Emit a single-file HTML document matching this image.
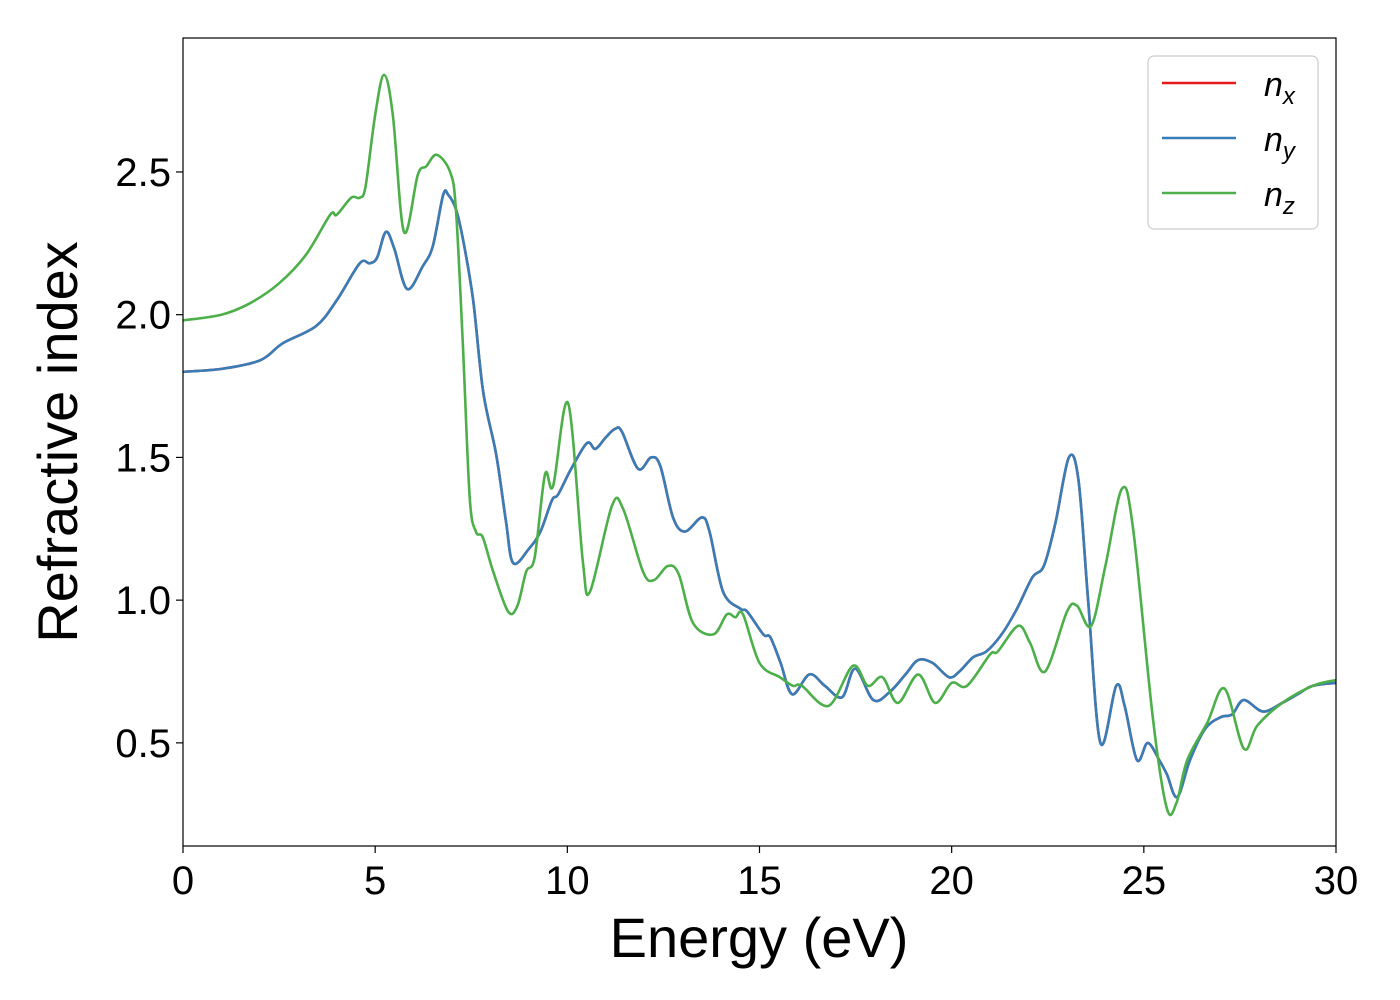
<!DOCTYPE html>
<html><head><meta charset="utf-8"><style>
html,body{margin:0;padding:0;background:#fff;}
svg{display:block;font-family:"Liberation Sans","DejaVu Sans",sans-serif;}
</style></head><body>
<svg id="chart" width="1400" height="1000" viewBox="0 0 1400 1000">
<rect x="0" y="0" width="1400" height="1000" fill="#fff"/>
<g id="plot"></g>
<g id="axes"></g>
<text x="759" y="957" font-size="56" text-anchor="middle" fill="#000">Energy (eV)</text>
<text transform="translate(77,442) rotate(-90)" font-size="56" text-anchor="middle" fill="#000">Refractive index</text>
<g>
<rect x="1148" y="56" width="170" height="173" rx="6" fill="#fff" stroke="#ccc" stroke-width="1.2"/>
<line x1="1162" y1="83" x2="1236" y2="83" stroke="#e41a1c" stroke-width="2.5"/>
<text x="1264" y="96" font-size="34" font-style="italic">n<tspan font-size="24" dy="8">x</tspan></text>
<line x1="1162" y1="138" x2="1236" y2="138" stroke="#377eb8" stroke-width="2.5"/>
<text x="1264" y="151" font-size="34" font-style="italic">n<tspan font-size="24" dy="8">y</tspan></text>
<line x1="1162" y1="193" x2="1236" y2="193" stroke="#4daf4a" stroke-width="2.5"/>
<text x="1264" y="206" font-size="34" font-style="italic">n<tspan font-size="24" dy="8">z</tspan></text>
</g>
</svg>
<script>
const xTicks=[0,5,10,15,20,25,30];
const yTicks=[0.5,1.0,1.5,2.0,2.5];
const yTickLabels=["0.5","1.0","1.5","2.0","2.5"];
const energyXY=[0,1,2,2.6,3.46,4,4.6,4.86,5.05,5.28,5.5,5.83,6.24,6.5,6.77,6.9,7.1,7.29,7.55,7.81,8.15,8.4,8.59,9.0,9.3,9.6,9.76,10.1,10.51,10.73,11.0,11.24,11.42,11.84,12.18,12.42,12.75,13.06,13.5,13.7,14.05,14.5,14.68,15.1,15.28,15.55,15.85,16.3,16.7,17.15,17.49,17.96,18.4,18.8,19.13,19.5,19.93,20.2,20.56,20.9,21.3,21.7,22.1,22.4,22.7,23.05,23.3,23.55,23.87,24.28,24.5,24.82,25.1,25.4,25.6,25.87,26.2,26.6,27.0,27.3,27.6,28.1,28.6,29.0,29.4,30];
const nxy=[1.80,1.81,1.84,1.90,1.96,2.05,2.18,2.18,2.20,2.29,2.23,2.09,2.17,2.24,2.42,2.42,2.37,2.26,2.05,1.73,1.51,1.28,1.13,1.18,1.24,1.35,1.37,1.46,1.55,1.53,1.57,1.60,1.59,1.46,1.50,1.47,1.29,1.24,1.29,1.24,1.03,0.97,0.96,0.88,0.87,0.78,0.67,0.74,0.70,0.66,0.76,0.65,0.68,0.74,0.79,0.78,0.73,0.75,0.80,0.82,0.88,0.97,1.08,1.12,1.27,1.50,1.42,1.00,0.50,0.70,0.63,0.44,0.50,0.44,0.39,0.31,0.44,0.55,0.59,0.60,0.65,0.61,0.64,0.67,0.70,0.71];
const energyZ=[0,1,1.74,2.5,3.2,3.83,4.0,4.38,4.6,4.75,5.0,5.23,5.46,5.75,6.11,6.33,6.6,6.95,7.1,7.28,7.46,7.62,7.8,8.07,8.46,8.7,8.93,9.15,9.42,9.63,10.02,10.4,10.59,11.16,11.45,11.97,12.25,12.62,12.9,13.27,13.8,14.15,14.37,14.57,15.0,15.53,15.87,16.1,16.8,17.43,17.82,18.2,18.6,19.13,19.57,20.0,20.4,21.0,21.2,21.73,22.04,22.43,23.0,23.26,23.63,24.0,24.43,24.72,25.24,25.6,25.85,26.13,26.65,27.1,27.6,27.95,28.6,29.4,30];
const nz=[1.98,2.00,2.04,2.11,2.21,2.35,2.35,2.41,2.41,2.45,2.70,2.84,2.70,2.29,2.49,2.52,2.56,2.50,2.37,1.90,1.36,1.24,1.22,1.10,0.96,0.98,1.10,1.15,1.44,1.40,1.69,1.14,1.03,1.33,1.32,1.10,1.07,1.12,1.09,0.92,0.88,0.95,0.94,0.95,0.78,0.73,0.70,0.70,0.63,0.77,0.70,0.73,0.64,0.74,0.64,0.71,0.70,0.81,0.82,0.91,0.85,0.75,0.96,0.98,0.91,1.12,1.39,1.25,0.58,0.27,0.29,0.44,0.57,0.69,0.48,0.56,0.64,0.70,0.72];

const X0=183,X1=1336,Y0=38,Y1=846;
const xMin=0,xMax=30,yMin=0.1387,yMax=2.9693;
function sx(v){return X0+(v-xMin)/(xMax-xMin)*(X1-X0);}
function sy(v){return Y1-(v-yMin)/(yMax-yMin)*(Y1-Y0);}
const NS="http://www.w3.org/2000/svg";
function pathFor(xs,ys){
  const p=xs.map((x,i)=>[sx(x),sy(ys[i])]);
  let d="M"+p[0][0].toFixed(1)+","+p[0][1].toFixed(1);
  for(let i=0;i<p.length-1;i++){
    const a=p[i>0?i-1:i],b=p[i],c=p[i+1],e=p[i+2<p.length?i+2:i+1];
    const c1x=b[0]+(c[0]-a[0])/6,c1y=b[1]+(c[1]-a[1])/6;
    const c2x=c[0]-(e[0]-b[0])/6,c2y=c[1]-(e[1]-b[1])/6;
    d+=" C"+c1x.toFixed(1)+","+c1y.toFixed(1)+" "+c2x.toFixed(1)+","+c2y.toFixed(1)+" "+c[0].toFixed(1)+","+c[1].toFixed(1);
  }
  return d;
}
const plot=document.getElementById("plot");
const clip=document.createElementNS(NS,"clipPath");clip.setAttribute("id","cp");
const cr=document.createElementNS(NS,"rect");cr.setAttribute("x",X0);cr.setAttribute("y",Y0);cr.setAttribute("width",X1-X0);cr.setAttribute("height",Y1-Y0);
clip.appendChild(cr);plot.appendChild(clip);
function addLine(xs,ys,color,name){
  const el=document.createElementNS(NS,"path");
  el.setAttribute("d",pathFor(xs,ys));el.setAttribute("fill","none");el.setAttribute("stroke",color);
  el.setAttribute("stroke-width","2.6");el.setAttribute("clip-path","url(#cp)");el.setAttribute("stroke-linejoin","round");
  
  
  plot.appendChild(el);
}
addLine(energyXY,nxy,"#e41a1c","series-nx");
addLine(energyXY,nxy,"#377eb8","series-ny");
addLine(energyZ,nz,"#4daf4a","series-nz");

const axes=document.getElementById("axes");
const frame=document.createElementNS(NS,"rect");
frame.setAttribute("x",X0);frame.setAttribute("y",Y0);frame.setAttribute("width",X1-X0);frame.setAttribute("height",Y1-Y0);
frame.setAttribute("fill","none");frame.setAttribute("stroke","#000");frame.setAttribute("stroke-width","1.2");


axes.appendChild(frame);
xTicks.forEach(v=>{
  const t=document.createElementNS(NS,"line");
  t.setAttribute("x1",sx(v));t.setAttribute("x2",sx(v));t.setAttribute("y1",Y1);t.setAttribute("y2",Y1+7);t.setAttribute("stroke","#000");t.setAttribute("stroke-width","1.2");
  
  
  axes.appendChild(t);
  const l=document.createElementNS(NS,"text");
  l.setAttribute("x",sx(v));l.setAttribute("y",Y1+48);l.setAttribute("font-size","40");l.setAttribute("text-anchor","middle");
  l.textContent=String(v);
  
  
  axes.appendChild(l);
});
yTicks.forEach((v,i)=>{
  const t=document.createElementNS(NS,"line");
  t.setAttribute("x1",X0-7);t.setAttribute("x2",X0);t.setAttribute("y1",sy(v));t.setAttribute("y2",sy(v));t.setAttribute("stroke","#000");t.setAttribute("stroke-width","1.2");
  
  
  axes.appendChild(t);
  const l=document.createElementNS(NS,"text");
  l.setAttribute("x",X0-12);l.setAttribute("y",sy(v)+14);l.setAttribute("font-size","40");l.setAttribute("text-anchor","end");
  l.textContent=yTickLabels[i];
  
  
  axes.appendChild(l);
});
</script>
</body></html>
